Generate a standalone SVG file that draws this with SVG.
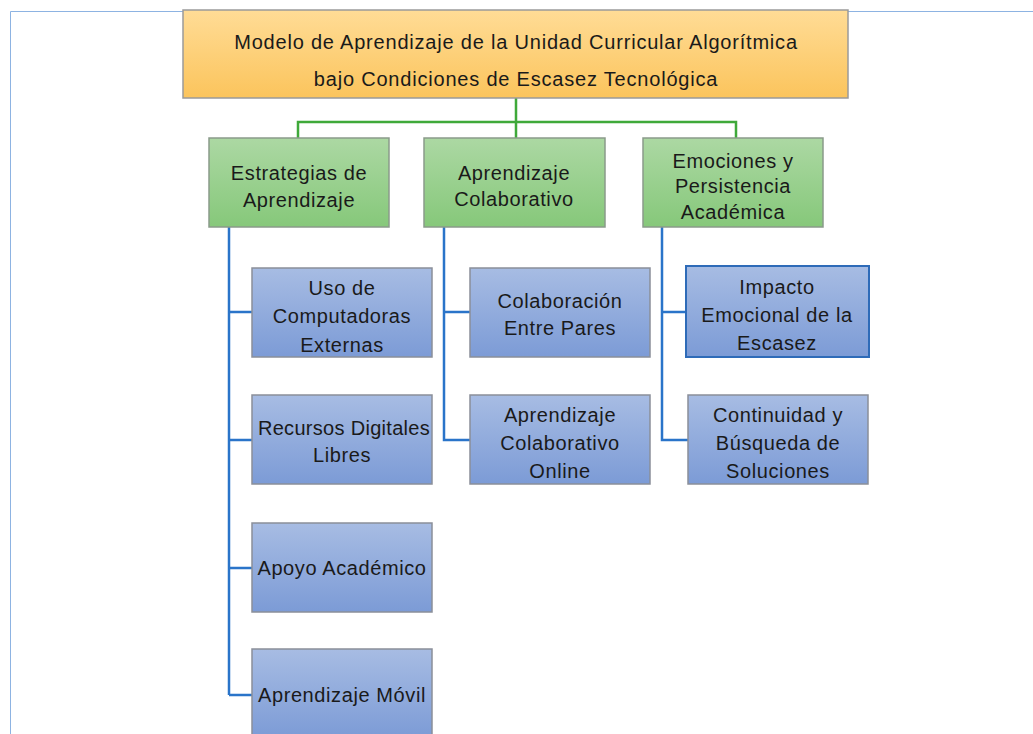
<svg xmlns="http://www.w3.org/2000/svg" width="1033" height="734" viewBox="0 0 1033 734">
<defs>
<linearGradient id="gOr" x1="0" y1="0" x2="0" y2="1"><stop offset="0" stop-color="#ffdc96"/><stop offset="1" stop-color="#fbc45c"/></linearGradient>
<linearGradient id="gGr" x1="0" y1="0" x2="0" y2="1"><stop offset="0" stop-color="#acd8a3"/><stop offset="1" stop-color="#86c87a"/></linearGradient>
<linearGradient id="gBl" x1="0" y1="0" x2="0" y2="1"><stop offset="0" stop-color="#a7bce3"/><stop offset="1" stop-color="#7c9bd6"/></linearGradient>
</defs>
<style>
text{font-family:"Liberation Sans",Arial,sans-serif;font-size:20px;letter-spacing:0.6px;fill:#1a1a1a;text-anchor:middle}
.t{letter-spacing:0.8px}
.or{fill:url(#gOr);stroke:#9a9a9a;stroke-width:1.5}
.gr{fill:url(#gGr);stroke:#8a9a8a;stroke-width:1.5}
.bl{fill:url(#gBl);stroke:#8a8f99;stroke-width:1.5}
.gl{fill:none;stroke:#3fa93a;stroke-width:2.5}
.bline{fill:none;stroke:#2a74c9;stroke-width:2.5}
</style>
<rect width="1033" height="734" fill="#ffffff"/>
<path d="M10.5,734 V11.5 H1033" fill="none" stroke="#8db3e2" stroke-width="1"/>
<g id="connectors">
<path class="gl" d="M516,98 V122 M298,138 V122 H736 V138 M516,122 V138"/>
<path class="bline" d="M229,227 V695 M229,312 H252 M229,440 H252 M229,568 H252 M229,695 H252"/>
<path class="bline" d="M444,227 V440 H470 M444,312 H470"/>
<path class="bline" d="M662,227 V440 H688 M662,312 H686"/>
</g>
<g id="root"><rect class="or" x="183" y="10" width="665" height="88"/>
<text class="t" x="516" y="49">Modelo de Aprendizaje de la Unidad Curricular Algorítmica</text>
<text class="t" x="516" y="86">bajo Condiciones de Escasez Tecnológica</text></g>
<g id="estrategias"><rect class="gr" x="209" y="138" width="180" height="89"/>
<text x="299" y="180">Estrategias de</text><text x="299" y="207">Aprendizaje</text></g>
<g id="colaborativo"><rect class="gr" x="424" y="138" width="181" height="89"/>
<text x="514" y="180">Aprendizaje</text><text x="514" y="206">Colaborativo</text></g>
<g id="emociones"><rect class="gr" x="643" y="138" width="180" height="89"/>
<text x="733" y="168">Emociones y</text><text x="733" y="193">Persistencia</text><text x="733" y="219">Académica</text></g>
<g id="uso"><rect class="bl" x="252" y="268" width="180" height="89"/>
<text x="342" y="295">Uso de</text><text x="342" y="323">Computadoras</text><text x="342" y="352">Externas</text></g>
<g id="recursos"><rect class="bl" x="252" y="395" width="180" height="89"/>
<text x="344" y="435" style="letter-spacing:0.3px">Recursos Digitales</text><text x="342" y="462">Libres</text></g>
<g id="apoyo"><rect class="bl" x="252" y="523" width="180" height="89"/>
<text x="342" y="575">Apoyo Académico</text></g>
<g id="movil"><rect class="bl" x="252" y="649" width="180" height="89"/>
<text x="342" y="702">Aprendizaje Móvil</text></g>
<g id="colaboracion"><rect class="bl" x="470" y="268" width="180" height="89"/>
<text x="560" y="308">Colaboración</text><text x="560" y="335">Entre Pares</text></g>
<g id="online"><rect class="bl" x="470" y="395" width="180" height="89"/>
<text x="560" y="422">Aprendizaje</text><text x="560" y="450">Colaborativo</text><text x="560" y="478">Online</text></g>
<g id="impacto"><rect class="bl" x="686" y="266" width="183" height="91" style="stroke:#2e6bb8;stroke-width:2"/>
<text x="777" y="294">Impacto</text><text x="777" y="322">Emocional de la</text><text x="777" y="350">Escasez</text></g>
<g id="continuidad"><rect class="bl" x="688" y="395" width="180" height="89"/>
<text x="778" y="422">Continuidad y</text><text x="778" y="450">Búsqueda de</text><text x="778" y="478">Soluciones</text></g>
</svg>
